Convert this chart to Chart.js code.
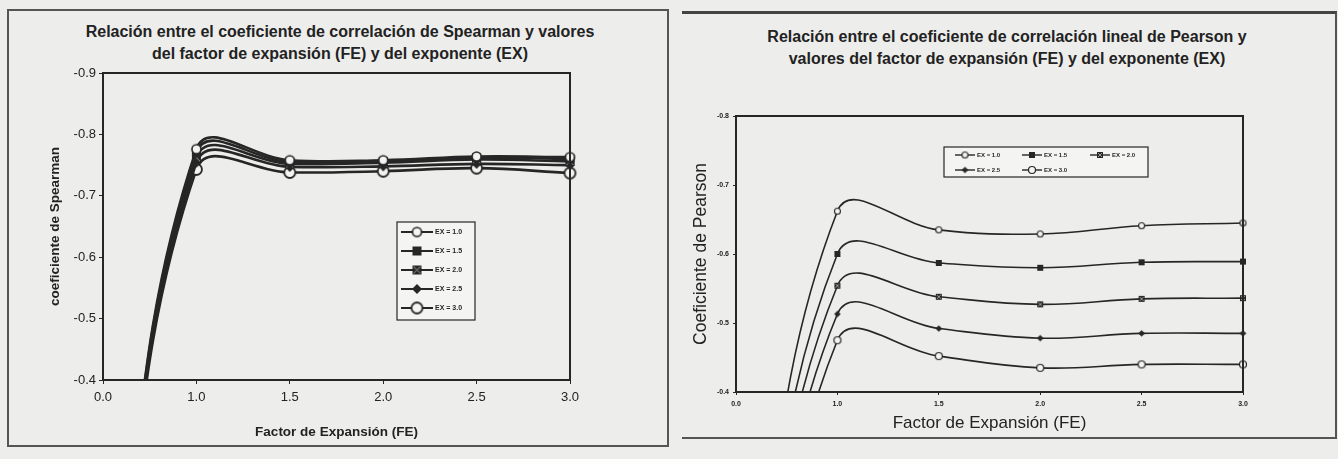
<!DOCTYPE html>
<html>
<head>
<meta charset="utf-8">
<script src="https://cdn.jsdelivr.net/npm/chart.js@4/dist/chart.umd.min.js"></script>
<style>
  body { margin: 0; width: 1338px; height: 459px; background: #ededeb; position: relative; overflow: hidden;
         font-family: "Liberation Sans", Arial, sans-serif; color: #222; }
  .frame { position: absolute; box-sizing: border-box; }
  .ttl { position: absolute; text-align: center; white-space: nowrap; line-height: 22px; font-weight: bold; }
  canvas { position: absolute; top: 0; }
</style>
</head>
<body>
<div class="frame" style="left:7px;top:9px;width:662px;height:438px;border:2px solid #555;"></div>
<div class="frame" style="left:682px;top:11px;width:655px;height:428px;border-top:3px solid #444;border-bottom:2px solid #555;border-right:2px solid #555;"></div>

<div class="ttl" style="left:40px;width:600px;top:21px;font-size:16px;">Relación entre el coeficiente de correlación de Spearman y valores<br>del factor de expansión (FE) y del exponente (EX)</div>
<div class="ttl" style="left:707px;width:600px;top:26px;font-size:16px;">Relación entre el coeficiente de correlación lineal de Pearson y<br>valores del factor de expansión (FE) y del exponente (EX)</div>

<canvas id="1" width="670" height="459" style="left:0"></canvas>
<canvas id="2" width="662" height="459" style="left:676px"></canvas>

<script>
// categories and series
const feLabels = ['0.0', '1.0', '1.5', '2.0', '2.5', '3.0'];
const exNames = ['EX = 1.0', 'EX = 1.5', 'EX = 2.0', 'EX = 2.5', 'EX = 3.0'];

// Spearman (left chart) - value at 0.0 lies below the plot
const sp10 = [0.15, -0.776, -0.758, -0.758, -0.764, -0.763];
const sp15 = [0.15, -0.770, -0.755, -0.756, -0.762, -0.760];
const sp20 = [0.15, -0.762, -0.752, -0.754, -0.759, -0.756];
const sp25 = [0.15, -0.754, -0.747, -0.748, -0.752, -0.750];
const sp30 = [0.15, -0.743, -0.738, -0.740, -0.745, -0.737];

// Pearson (right chart)
const pe10 = [0.12, -0.662, -0.635, -0.629, -0.641, -0.645];
const pe15 = [0.15, -0.600, -0.587, -0.580, -0.588, -0.589];
const pe20 = [0.18, -0.554, -0.538, -0.527, -0.535, -0.536];
const pe25 = [0.22, -0.513, -0.492, -0.478, -0.485, -0.485];
const pe30 = [0.28, -0.475, -0.452, -0.435, -0.440, -0.440];

const ink = '#262626';
const paper = '#f4f4f2';
const font = '"Liberation Sans", Arial, sans-serif';

// little marker images, used by the lines and by the legends
function marker(kind, r, lw) {
    const s = Math.ceil(r * 2 + lw * 2 + 2);
    const c = document.createElement('canvas');
    c.width = c.height = s;
    const g = c.getContext('2d');
    const m = s / 2;
    g.lineWidth = lw;
    g.strokeStyle = ink;
    g.fillStyle = ink;
    if (kind === 'circle') {
        g.beginPath(); g.arc(m, m, r, 0, Math.PI * 2);
        g.fillStyle = paper; g.fill(); g.stroke();
    } else if (kind === 'square') {
        g.fillRect(m - r, m - r, 2 * r, 2 * r);
    } else if (kind === 'squareX') {
        g.fillRect(m - r, m - r, 2 * r, 2 * r);
        g.strokeStyle = '#9a9a9a'; g.lineWidth = 1;
        g.beginPath();
        g.moveTo(m - r + 1, m - r + 1); g.lineTo(m + r - 1, m + r - 1);
        g.moveTo(m + r - 1, m - r + 1); g.lineTo(m - r + 1, m + r - 1);
        g.stroke();
    } else if (kind === 'diamond') {
        g.beginPath();
        g.moveTo(m, m - r); g.lineTo(m + r, m); g.lineTo(m, m + r); g.lineTo(m - r, m);
        g.closePath(); g.fill();
    }
    return c;
}

const leftMarks = [marker('circle', 4.5, 1.6), marker('square', 4.5, 1), marker('squareX', 4.5, 1),
                   marker('diamond', 5, 1), marker('circle', 5.5, 1.8)];
const rightMarks = [marker('circle', 3, 1.1), marker('square', 3, 1), marker('squareX', 3, 1),
                    marker('diamond', 3.3, 1), marker('circle', 3.5, 1.2)];

function makeSets(series, marks, width) {
    return series.map((d, i) => ({
        label: exNames[i],
        data: d,
        borderColor: ink,
        borderWidth: width,
        tension: 0.4,
        capBezierPoints: false,
        pointStyle: marks[i],
        pointRadius: d.map((v, j) => j === 0 ? 0 : 5),
        pointHoverRadius: 0
    }));
}

// box round the plot + legend drawn inside the plot
const framePlugin = {
    id: 'frameLegend',
    afterDatasetsDraw(chart, args, opts) {
        const ctx = chart.ctx;
        const a = chart.chartArea;
        ctx.save();
        ctx.strokeStyle = ink;
        ctx.lineWidth = opts.frameWidth;
        ctx.strokeRect(a.left, a.top, a.right - a.left, a.bottom - a.top);

        const b = opts.box;
        ctx.fillStyle = paper;
        ctx.fillRect(b[0], b[1], b[2], b[3]);
        ctx.lineWidth = 1.2;
        ctx.strokeRect(b[0], b[1], b[2], b[3]);
        ctx.font = opts.font;
        ctx.textBaseline = 'middle';
        chart.data.datasets.forEach((ds, i) => {
            const p = opts.items[i];
            ctx.strokeStyle = ink;
            ctx.lineWidth = opts.lineWidth;
            ctx.beginPath(); ctx.moveTo(p[0], p[1]); ctx.lineTo(p[0] + opts.lineLen, p[1]); ctx.stroke();
            const img = ds.pointStyle;
            ctx.drawImage(img, p[0] + opts.lineLen / 2 - img.width / 2, p[1] - img.height / 2);
            ctx.fillStyle = ink;
            ctx.fillText(ds.label, p[0] + opts.lineLen + 2, p[1]);
        });
        ctx.restore();
    }
};

// CHART 1 - Spearman
new Chart(document.getElementById('1'), {
    type: 'line',
    data: { labels: feLabels, datasets: makeSets([sp10, sp15, sp20, sp25, sp30], leftMarks, 2.6) },
    options: {
        responsive: false,
        animation: false,
        layout: { padding: { left: 0, right: 100, top: 73, bottom: 19 } },
        plugins: {
            legend: { display: false },
            tooltip: { enabled: false },
            frameLegend: {
                frameWidth: 2,
                box: [397, 222, 78, 98],
                items: [[401, 232], [401, 251], [401, 270], [401, 289], [401, 308]],
                lineLen: 32, lineWidth: 2,
                font: 'bold 7px ' + font
            }
        },
        scales: {
            x: {
                offset: false,
                afterFit: s => { s.height = 60; },
                grid: { drawOnChartArea: false, tickLength: 4, color: ink },
                border: { color: ink, width: 2 },
                ticks: { color: '#222', font: { family: font, size: 13 }, padding: 6, maxRotation: 0 },
                title: { display: true, text: 'Factor de Expansión (FE)', color: '#222',
                         font: { family: font, size: 13.5, weight: 'bold' }, padding: { top: 0, bottom: 0 } }
            },
            y: {
                min: -0.9, max: -0.4, reverse: true,
                afterFit: s => { s.width = 103; },
                grid: { drawOnChartArea: false, tickLength: 4, color: ink },
                border: { color: ink, width: 2 },
                ticks: { stepSize: 0.1, color: '#222', font: { family: font, size: 13 }, padding: 3,
                         callback: v => v.toFixed(1) },
                title: { display: true, text: 'coeficiente de Spearman', color: '#222',
                         font: { family: font, size: 13.5, weight: 'bold' }, padding: { top: 47, bottom: 0 } }
            }
        }
    },
    plugins: [framePlugin]
});

// CHART 2 - Pearson
new Chart(document.getElementById('2'), {
    type: 'line',
    data: { labels: feLabels, datasets: makeSets([pe10, pe15, pe20, pe25, pe30], rightMarks, 1.6) },
    options: {
        responsive: false,
        animation: false,
        layout: { padding: { left: 0, right: 95, top: 116, bottom: 17 } },
        plugins: {
            legend: { display: false },
            tooltip: { enabled: false },
            frameLegend: {
                frameWidth: 2,
                box: [268, 147, 204, 30],
                items: [[279, 155], [346, 155], [414, 155], [279, 170], [346, 170]],
                lineLen: 20, lineWidth: 1.4,
                font: 'bold 6px ' + font
            }
        },
        scales: {
            x: {
                offset: false,
                afterFit: s => { s.height = 50; },
                grid: { drawOnChartArea: false, tickLength: 3, color: ink },
                border: { color: ink, width: 2 },
                ticks: { color: '#222', font: { family: font, size: 7, weight: 'bold' }, padding: 5, maxRotation: 0 },
                title: { display: true, text: 'Factor de Expansión (FE)', color: '#222',
                         font: { family: font, size: 17 }, padding: { top: 0, bottom: 8 } }
            },
            y: {
                min: -0.8, max: -0.4, reverse: true,
                afterFit: s => { s.width = 60; },
                grid: { drawOnChartArea: false, tickLength: 3, color: ink },
                border: { color: ink, width: 2 },
                ticks: { stepSize: 0.1, color: '#222', font: { family: font, size: 7, weight: 'bold' }, padding: 4,
                         callback: v => v.toFixed(1) },
                title: { display: true, text: 'Coeficiente de Pearson', color: '#222',
                         font: { family: font, size: 17.5 }, padding: { top: 15, bottom: 0 } }
            }
        }
    },
    plugins: [framePlugin]
});
</script>
</body>
</html>
